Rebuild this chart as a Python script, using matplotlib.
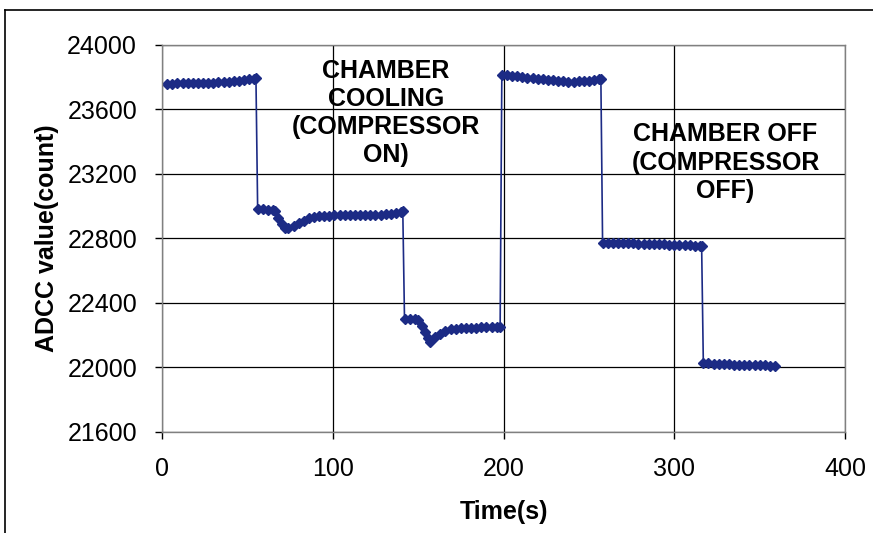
import matplotlib.pyplot as plt
from matplotlib.lines import Line2D

# Data (time in s, ADCC counts)
t_seg1 = [3, 6, 9, 12, 15, 18, 21, 24, 27, 30, 33, 36, 39, 42, 45, 48, 51, 54, 55]
v_seg1 = [23755, 23760, 23762, 23762, 23763, 23763, 23764, 23764, 23765, 23766,
          23768, 23770, 23772, 23775, 23778, 23782, 23786, 23792, 23795]

t_seg2 = [56, 59, 62, 65, 66, 68, 70, 72, 74, 77, 80, 83, 86, 89, 92, 95, 98, 101,
          104, 107, 110, 113, 116, 119, 122, 125, 128, 131, 134, 137, 140, 141]
v_seg2 = [22980, 22980, 22978, 22975, 22968, 22930, 22890, 22865, 22868, 22880,
          22895, 22910, 22925, 22935, 22940, 22942, 22942, 22943, 22943, 22943,
          22944, 22944, 22944, 22945, 22945, 22946, 22948, 22950, 22952, 22956,
          22962, 22968]

t_seg3 = [142, 145, 148, 150, 152, 154, 156, 157, 160, 163, 166, 169, 172, 175,
          178, 181, 184, 187, 190, 193, 196, 198]
v_seg3 = [22300, 22300, 22298, 22292, 22260, 22220, 22180, 22160, 22190, 22210,
          22228, 22240, 22238, 22245, 22247, 22248, 22248, 22249, 22250, 22250,
          22250, 22252]

t_seg4 = [199, 202, 205, 208, 211, 214, 217, 220, 223, 226, 229, 232, 235, 238,
          241, 244, 247, 250, 253, 256, 257]
v_seg4 = [23815, 23812, 23810, 23805, 23800, 23796, 23795, 23790, 23786, 23782,
          23780, 23776, 23775, 23772, 23772, 23774, 23775, 23778, 23782, 23786,
          23788]

t_seg5 = [258, 261, 264, 267, 270, 273, 276, 279, 282, 285, 288, 291, 294, 297,
          300, 303, 306, 309, 312, 315, 316]
v_seg5 = [22772, 22772, 22771, 22771, 22770, 22770, 22770, 22768, 22766, 22765,
          22765, 22764, 22763, 22762, 22760, 22759, 22758, 22757, 22756, 22755, 22755]

t_seg6 = [317, 320, 323, 326, 329, 332, 335, 338, 341, 344, 347, 350, 353, 356, 359]
v_seg6 = [22028, 22025, 22022, 22020, 22020, 22019, 22018, 22018, 22017, 22016,
          22015, 22015, 22014, 22012, 22010]

x_ticks = [0, 100, 200, 300, 400]
y_ticks = [21600, 22000, 22400, 22800, 23200, 23600, 24000]

time = t_seg1 + t_seg2 + t_seg3 + t_seg4 + t_seg5 + t_seg6
adcc = v_seg1 + v_seg2 + v_seg3 + v_seg4 + v_seg5 + v_seg6

plt.rcParams['font.family'] = ['Liberation Sans', 'DejaVu Sans']

fig = plt.figure(figsize=(8.73, 5.33), dpi=100)
ax = fig.add_axes([0.1856, 0.1895, 0.968 - 0.1856, 0.9156 - 0.1895])

navy = '#1c2b85'
ax.plot(time, adcc, color=navy, lw=1.2, marker='D', markersize=5,
        markerfacecolor=navy, markeredgecolor=navy)

ax.set_xlim(0, 400)
ax.set_ylim(21600, 24000)
ax.set_xticks(x_ticks)
ax.set_yticks(y_ticks)
ax.tick_params(axis='both', direction='out', length=5, width=1, labelsize=18,
               color='black')
ax.tick_params(axis='x', pad=13)
ax.tick_params(axis='y', pad=13)
ax.grid(True, color='black', lw=0.9)
ax.set_axisbelow(True)
for s in ax.spines.values():
    s.set_color('#808080')
    s.set_linewidth(1)

ax.set_xlabel('Time(s)', fontsize=18, fontweight='bold', labelpad=14)
ax.set_ylabel('ADCC value(count)', fontsize=18, fontweight='bold', labelpad=6)

ax.text(131, 23915, 'CHAMBER\nCOOLING\n(COMPRESSOR\nON)', ha='center', va='top',
        fontsize=18, fontweight='bold', linespacing=1.22)
ax.text(330, 23520, 'CHAMBER OFF\n(COMPRESSOR\nOFF)', ha='center', va='top',
        fontsize=18, fontweight='bold', linespacing=1.22)

# outer frame (cut off at right and bottom in the reference)
fig.add_artist(Line2D([5 / 873, 1.0], [1 - 10 / 533, 1 - 10 / 533],
                      color='black', lw=1.2, transform=fig.transFigure))
fig.add_artist(Line2D([5 / 873, 5 / 873], [0.0, 1 - 10 / 533],
                      color='black', lw=1.2, transform=fig.transFigure))

fig.savefig('out.png', dpi=100)
plt.close(fig)
